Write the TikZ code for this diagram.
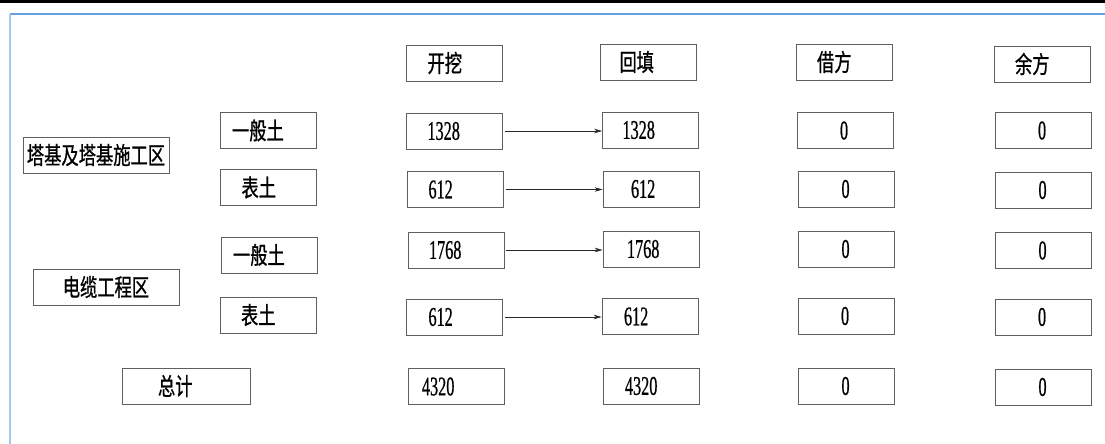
\documentclass[tikz,border=0pt]{standalone}
\usepackage{fontspec}
\setmainfont{Liberation Serif}[FakeStretch=0.6, FakeBold=0.6]
\newfontfamily\cjkfont{Noto Sans CJK SC}[FakeStretch=0.72, FakeBold=0.8]
\usetikzlibrary{arrows.meta}
\definecolor{boxgray}{RGB}{95,95,95}
\definecolor{bluetop}{RGB}{100,160,225}
\definecolor{blueleft}{RGB}{165,200,240}
\tikzset{
  cell/.style={draw=boxgray, line width=0.8pt, minimum height=36pt,
    inner ysep=0pt, inner xsep=0pt, text width=96pt, align=left,
    font=\fontsize{27}{30}\selectfont,
    execute at begin node={\hspace*{#1}}},
  cjk/.style={font=\cjkfont\fontsize{24}{28}\selectfont},
  wide/.style={draw=boxgray, line width=0.8pt, minimum height=36pt,
    minimum width=#1, inner sep=0pt, font=\cjkfont\fontsize{24}{28}\selectfont},
  flow/.style={draw=black!85, line width=0.6pt, -{Stealth[length=8pt,width=4.5pt]}}
}
\begin{document}
\begin{tikzpicture}[x=1pt,y=-1pt]
\fill[white] (0,0) rectangle (1105,444);
\useasboundingbox (0,0) rectangle (1105,444);
\fill[black] (0,0) rectangle (1105,3);
\draw[bluetop, line width=1.2pt] (10,14) -- (1105,14);
\draw[blueleft, line width=1.6pt] (10,14) -- (10,444);

% headers
\node[cell=21pt, cjk] (h1) at (454.5,63) {开挖};
\node[cell=19pt, cjk] (h2) at (648.5,62) {回填};
\node[cell=21pt, cjk] (h3) at (844,62) {借方};
\node[cell=21pt, cjk] (h4) at (1042,64) {余方};

% region labels
\node[wide=146pt] (ta) at (96,155) {塔基及塔基施工区};
\node[wide=146pt] (dl) at (106,287) {电缆工程区};
\node[cell=36pt, cjk, text width=128pt] (zj) at (186,386) {总计};

% soil type labels
\node[cell=12pt, cjk] (s1) at (268,130.5) {一般土};
\node[cell=21pt, cjk] (s2) at (268.5,187.5) {表土};
\node[cell=12pt, cjk] (s3) at (269,255) {一般土};
\node[cell=21pt, cjk] (s4) at (268,315) {表土};

% excavation
\node[cell=21pt] (l1) at (454.5,131) {1328};
\node[cell=21pt] (l2) at (455.5,189.5) {612};
\node[cell=21pt] (l3) at (456,250) {1768};
\node[cell=22pt] (l4) at (454.5,317) {612};
\node[cell=14pt] (l5) at (456,386.5) {4320};

% backfill
\node[cell=20pt] (r1) at (650.5,130) {1328};
\node[cell=28pt] (r2) at (651,189) {612};
\node[cell=24pt] (r3) at (651,249) {1768};
\node[cell=22pt] (r4) at (650,316.5) {612};
\node[cell=22pt] (r5) at (651,386) {4320};

% borrow
\node[cell=43pt] (b1) at (845,130.5) {0};
\node[cell=43pt] (b2) at (846.5,189) {0};
\node[cell=43pt] (b3) at (846.5,249) {0};
\node[cell=43pt] (b4) at (846,316) {0};
\node[cell=43pt] (b5) at (846.5,386) {0};

% surplus
\node[cell=43pt] (y1) at (1043,130.5) {0};
\node[cell=43pt] (y2) at (1043.5,190) {0};
\node[cell=43pt] (y3) at (1043.5,250.5) {0};
\node[cell=43pt] (y4) at (1043,317) {0};
\node[cell=43pt] (y5) at (1043.5,387) {0};

% arrows
\draw[flow] ([xshift=2pt]l1.east) -- (l1.east -| r1.west);
\draw[flow] ([xshift=2pt]l2.east) -- (l2.east -| r2.west);
\draw[flow] ([xshift=2pt]l3.east) -- (l3.east -| r3.west);
\draw[flow] ([xshift=2pt]l4.east) -- (l4.east -| r4.west);
\end{tikzpicture}
\end{document}
